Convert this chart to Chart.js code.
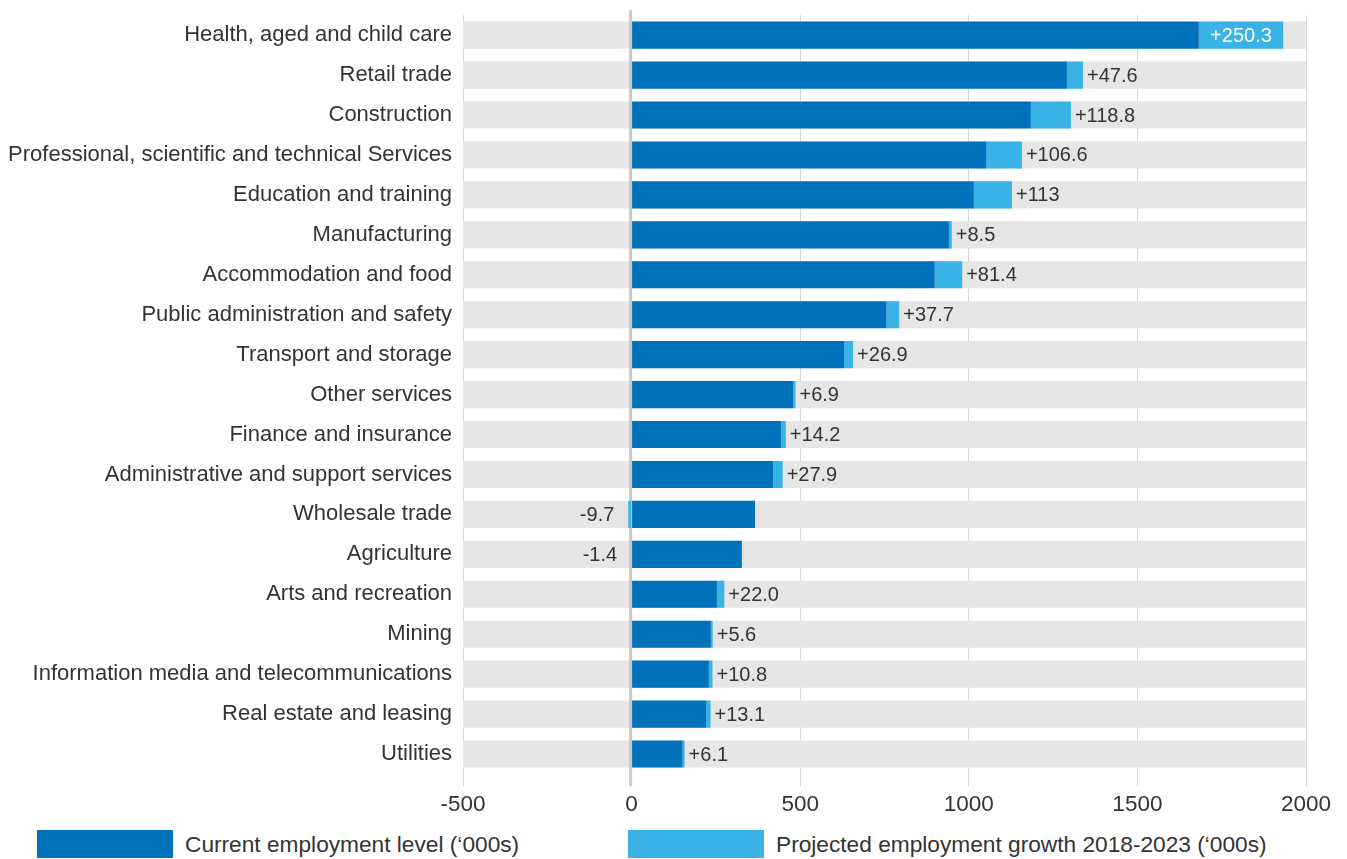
<!DOCTYPE html>
<html>
<head>
<meta charset="utf-8">
<title>Employment by industry</title>
<script src="https://cdn.jsdelivr.net/npm/chart.js@4.4.1/dist/chart.umd.min.js"></script>
<style>
  html, body { margin: 0; padding: 0; background: #fff; }
  body {
    width: 1347px; height: 859px; position: relative; overflow: hidden;
    font-family: "Liberation Sans", Arial, sans-serif; color: #333;
  }
  #chart-wrap { position: absolute; left: 0; top: -9px; width: 1347px; height: 829px; }
  .legend-item { position: absolute; top: 830px; height: 28px; display: flex; align-items: center; }
  .legend-box { width: 136px; height: 28px; margin-right: 12px; }
  .legend-text { font-size: 22.7px; color: #333; white-space: nowrap; }
</style>
</head>
<body>
<div id="chart-wrap"><canvas id="employment-chart"></canvas></div>
<div id="legend"></div>

<script>
/* ============================================================================
   EMPLOYMENT BY INDUSTRY - current level and projected growth ('000s)
   ============================================================================ */

// Data
const industries = [
    'Health, aged and child care',
    'Retail trade',
    'Construction',
    'Professional, scientific and technical Services',
    'Education and training',
    'Manufacturing',
    'Accommodation and food',
    'Public administration and safety',
    'Transport and storage',
    'Other services',
    'Finance and insurance',
    'Administrative and support services',
    'Wholesale trade',
    'Agriculture',
    'Arts and recreation',
    'Mining',
    'Information media and telecommunications',
    'Real estate and leasing',
    'Utilities'
];
const currentLevel = [1682, 1291, 1184, 1051, 1015, 941, 899, 756, 630, 479, 443, 420, 366, 327, 253, 235, 229, 221, 151];
const projectedGrowth = [250.3, 47.6, 118.8, 106.6, 113, 8.5, 81.4, 37.7, 26.9, 6.9, 14.2, 27.9, -9.7, -1.4, 22.0, 5.6, 10.8, 13.1, 6.1];
const growthLabels = ['+250.3', '+47.6', '+118.8', '+106.6', '+113', '+8.5', '+81.4', '+37.7', '+26.9', '+6.9', '+14.2', '+27.9', '-9.7', '-1.4', '+22.0', '+5.6', '+10.8', '+13.1', '+6.1'];
const axisMin = -500;
const axisMax = 2000;
const axisStep = 500;

const seriesNames = ["Current employment level (\u2018000s)", "Projected employment growth 2018-2023 (\u2018000s)"];

// Styles
const COLORS = {
    current: '#0071bb',
    growth: '#39b3e6',
    track: '#e6e6e6',
    grid: '#d6d6d6',
    zero: '#c8c8c8',
    text: '#333333'
};
const FONT_FAMILY = '"Liberation Sans", Arial, sans-serif';

// Value labels + thick zero line
const growthLabelPlugin = {
    id: 'growthLabels',
    afterDatasetDraw(chart, args) {
        // draw the zero line right above the grey tracks
        if (args.index !== 2) return;
        const ctx = chart.ctx;
        const x0 = chart.scales.x.getPixelForValue(0);
        ctx.save();
        ctx.strokeStyle = COLORS.zero;
        ctx.lineWidth = 3;
        ctx.beginPath();
        ctx.moveTo(x0 - 1, chart.chartArea.top - 5);
        ctx.lineTo(x0 - 1, chart.chartArea.bottom + 12);
        ctx.stroke();
        ctx.restore();
    },
    afterDatasetsDraw(chart) {
        const ctx = chart.ctx;
        const xScale = chart.scales.x;
        const yScale = chart.scales.y;
        ctx.save();
        ctx.font = `20px ${FONT_FAMILY}`;
        ctx.textBaseline = 'middle';
        industries.forEach((name, i) => {
            const text = growthLabels[i];
            const y = yScale.getPixelForValue(i) + 1;
            const g = projectedGrowth[i];
            if (g < 0) {
                ctx.textAlign = 'right';
                ctx.fillStyle = COLORS.text;
                ctx.fillText(text, xScale.getPixelForValue(g) - 14, y);
                return;
            }
            const start = xScale.getPixelForValue(currentLevel[i]);
            const end = xScale.getPixelForValue(currentLevel[i] + g);
            const w = ctx.measureText(text).width;
            if (end + 4 + w > chart.chartArea.right) {
                ctx.textAlign = 'center';
                ctx.fillStyle = '#ffffff';
                ctx.fillText(text, (start + end) / 2, y);
            } else {
                ctx.textAlign = 'left';
                ctx.fillStyle = COLORS.text;
                ctx.fillText(text, end + 4, y);
            }
        });
        ctx.restore();
    }
};

// Chart
document.addEventListener('DOMContentLoaded', function() {
    const ctx = document.getElementById('employment-chart');

    new Chart(ctx, {
        type: 'bar',
        data: {
            labels: industries,
            datasets: [
                {
                    label: seriesNames[0],
                    data: currentLevel.map(v => [0, v]),
                    backgroundColor: COLORS.current
                },
                {
                    label: seriesNames[1],
                    data: projectedGrowth.map((g, i) => g >= 0 ? [currentLevel[i], currentLevel[i] + g] : [g, 0]),
                    backgroundColor: COLORS.growth
                },
                {
                    label: 'track',
                    data: industries.map(() => [axisMin, axisMax]),
                    backgroundColor: COLORS.track
                }
            ]
        },
        options: {
            indexAxis: 'y',
            responsive: true,
            maintainAspectRatio: false,
            animation: false,
            datasets: {
                bar: {
                    grouped: false,
                    categoryPercentage: 0.68,
                    barPercentage: 1,
                    borderSkipped: false
                }
            },
            layout: { padding: { top: 6, right: 41, bottom: 0, left: 0 } },
            plugins: {
                legend: { display: false },
                tooltip: { enabled: false }
            },
            scales: {
                x: {
                    min: axisMin,
                    max: axisMax,
                    border: { display: false },
                    grid: {
                        color: COLORS.grid,
                        lineWidth: 1,
                        drawTicks: true,
                        tickLength: 12,
                        tickColor: COLORS.grid
                    },
                    ticks: {
                        stepSize: axisStep,
                        padding: 5,
                        color: COLORS.text,
                        maxRotation: 0,
                        font: { family: FONT_FAMILY, size: 22.5 },
                        callback: v => String(v)
                    },
                    afterFit(scale) { scale.height = 46; }
                },
                y: {
                    border: { display: false },
                    grid: { display: false, drawTicks: false },
                    ticks: {
                        padding: 11,
                        color: COLORS.text,
                        autoSkip: false,
                        font: { family: FONT_FAMILY, size: 22 }
                    },
                    afterFit(scale) { scale.width = 463; }
                }
            }
        },
        plugins: [growthLabelPlugin]
    });

    // Legend (outside the canvas, like the original)
    const legend = document.getElementById('legend');
    const legendPos = [37, 628];
    [COLORS.current, COLORS.growth].forEach((color, i) => {
        legend.insertAdjacentHTML('beforeend', `
            <div class="legend-item" style="left:${legendPos[i]}px">
                <div class="legend-box" style="background:${color}"></div>
                <div class="legend-text">${seriesNames[i]}</div>
            </div>
        `);
    });
});
</script>
</body>
</html>
